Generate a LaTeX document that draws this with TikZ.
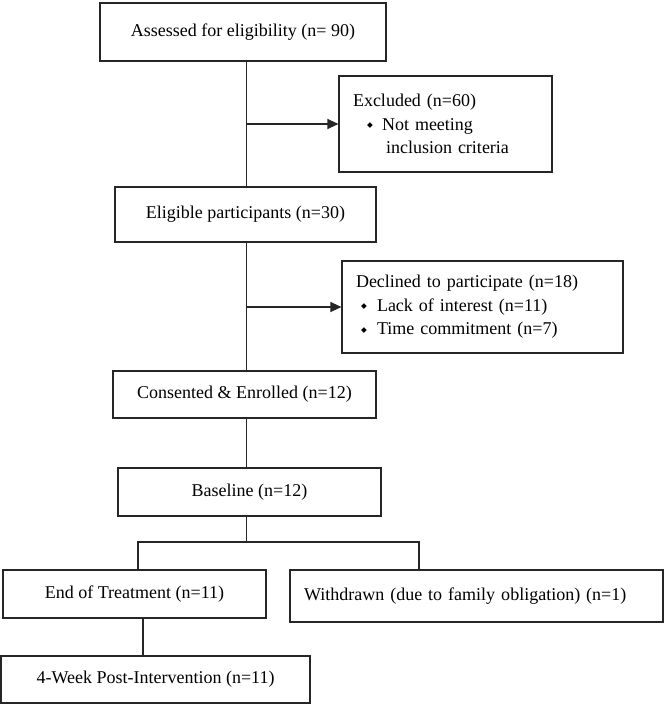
\documentclass[tikz,border=0pt]{standalone}
\usepackage{fontspec}
\setmainfont{Liberation Serif}
\newfontfamily\symfont{DejaVu Sans}
\usetikzlibrary{arrows.meta}
\newcommand{\bul}{\raisebox{2.5pt}{\symfont\fontsize{7.5}{7.5}\selectfont ◆}}
\begin{document}
\begin{tikzpicture}[x=1pt,y=-1pt,
  box/.style={draw=black!85, line width=1.1pt, inner sep=0pt, font=\fontsize{18}{23.5}\selectfont},
  conn/.style={draw=black!85, line width=1.1pt},
  arr/.style={conn, -{Triangle[length=11pt,width=10pt]}}]
\useasboundingbox (0,0) rectangle (666,706);
\node[box, minimum width=286pt, minimum height=58pt] (assess) at (243,32) {Assessed for eligibility (n= 90)};
\node[box, minimum width=213pt, minimum height=96pt, text width=185pt, inner xsep=14pt, align=left] (excl) at (445.5,124)
  {Excluded (n=60)\\\hspace*{14pt}\makebox[15pt][l]{\bul}Not meeting\\\hspace*{33pt}inclusion criteria};
\node[box, minimum width=261pt, minimum height=55pt] (elig) at (245.5,214.5) {Eligible participants (n=30)};
\node[box, minimum width=281pt, minimum height=92pt, text width=253pt, inner xsep=14pt, align=left] (decl) at (482.5,307)
  {Declined to participate (n=18)\\\hspace*{5pt}\makebox[16pt][l]{\bul}Lack of interest (n=11)\\\hspace*{5pt}\makebox[16pt][l]{\bul}Time commitment (n=7)};
\node[box, minimum width=263pt, minimum height=47pt] (cons) at (244.5,394.5) {Consented \& Enrolled (n=12)};
\node[box, minimum width=263pt, minimum height=48pt] (base) at (249.5,492) {Baseline (n=12)};
\node[box, minimum width=263pt, minimum height=48pt] (endt) at (134.5,594) {End of Treatment (n=11)};
\node[box, minimum width=373pt, minimum height=52pt, text width=345pt, inner xsep=14pt, align=left] (withd) at (476.5,596) {Withdrawn (due to family obligation) (n=1)};
\node[box, minimum width=309pt, minimum height=47pt] (post) at (155.5,679.5) {4-Week Post-Intervention (n=11)};
\coordinate (spine) at (246.5,0);
\coordinate (bl) at (138,542);
\coordinate (brr) at (419,542);
\coordinate (c) at (143,0);
\draw[conn] (spine |- assess.south) -- (spine |- elig.north);
\draw[arr] (spine |- excl.west) -- (excl.west);
\draw[arr] (spine |- decl.west) -- (decl.west);
\draw[conn] (spine |- elig.south) -- (spine |- cons.north);
\draw[conn] (spine |- cons.south) -- (spine |- base.north);
\draw[conn] (spine |- base.south) -- (spine |- bl);
\draw[conn] (bl |- endt.north) -- (bl) -- (brr) -- (brr |- withd.north);
\draw[conn] (c |- endt.south) -- (c |- post.north);
\end{tikzpicture}
\end{document}
